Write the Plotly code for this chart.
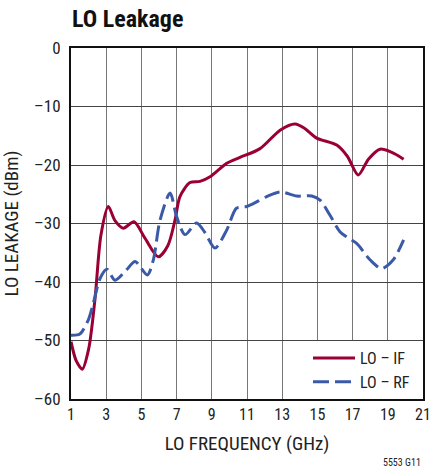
import plotly.graph_objects as go

# LO - IF (solid)
if_freq = [1.0, 1.3, 1.64, 2.0, 2.36, 2.7, 3.12, 3.5, 3.97, 4.58, 5.2, 5.96, 6.5, 6.91, 7.19, 7.76, 8.33, 8.9, 9.85, 10.6, 11.74, 12.9, 13.73, 14.3, 14.96, 16.1, 16.7, 17.32, 17.9, 18.56, 19.2, 19.9]
if_val = [-50.2, -53.5, -54.9, -51.5, -43.0, -32.0, -27.1, -29.5, -30.8, -29.7, -32.5, -35.7, -33.8, -29.4, -25.4, -23.0, -22.8, -22.0, -19.7, -18.7, -17.2, -14.0, -13.0, -13.8, -15.4, -16.6, -18.5, -21.7, -19.0, -17.3, -17.8, -19.0]

# LO - RF (dashed)
rf_freq = [1.0, 1.5, 1.98, 2.27, 2.65, 3.03, 3.5, 4.16, 4.64, 5.34, 5.68, 6.06, 6.63, 7.0, 7.48, 8.14, 8.6, 9.18, 9.85, 10.4, 10.98, 11.36, 12.12, 12.9, 13.82, 14.68, 15.15, 15.7, 16.28, 16.66, 17.23, 17.99, 18.65, 19.31, 19.9]
rf_val = [-49.1, -48.9, -46.5, -43.6, -39.4, -37.8, -39.7, -37.9, -36.5, -38.8, -36.2, -29.4, -24.8, -28.8, -31.9, -29.9, -31.5, -34.2, -31.1, -27.4, -27.1, -26.6, -25.4, -24.6, -25.3, -25.3, -26.0, -28.5, -31.4, -32.3, -33.4, -36.2, -37.7, -36.2, -32.8]

x_ticks = [1, 3, 5, 7, 9, 11, 13, 15, 17, 19, 21]
y_ticks = [0, -10, -20, -30, -40, -50, -60]
y_ticktext = ["0", "–10", "–20", "–30", "–40", "–50", "–60"]

FONT = "Liberation Sans Narrow, Arial Narrow, Roboto Condensed, Roboto, sans-serif"
RED = "#9a0033"
BLUE = "#3a5aa8"

fig = go.Figure()
fig.add_trace(go.Scatter(x=if_freq, y=if_val, mode="lines", name="LO – IF",
                         line=dict(color=RED, width=3, shape="spline", smoothing=0.8)))
fig.add_trace(go.Scatter(x=rf_freq, y=rf_val, mode="lines", name="LO – RF",
                         line=dict(color=BLUE, width=3, shape="spline", smoothing=0.8, dash="16px,6px")))

fig.update_layout(
    width=432, height=469,
    margin=dict(l=71, r=9, t=48, b=70, autoexpand=False),
    paper_bgcolor="white", plot_bgcolor="white",
    font=dict(family=FONT, size=16, color="#222"),
    title=dict(text="<b>LO Leakage</b>", x=72/432, xanchor="left", xref="container",
               y=1-18.5/469, yanchor="middle", automargin=False,
               font=dict(family=FONT, size=24, color="#111")),
    showlegend=True,
    legend=dict(x=1-8/352, xanchor="right", y=0, yanchor="bottom", bgcolor="white",
                borderwidth=0, font=dict(size=16, color="#222"), itemwidth=42,
                tracegroupgap=0),
    annotations=[dict(text="5553 G11", x=1, xref="paper", xanchor="right", y=-63/351, yref="paper",
                      yanchor="middle", showarrow=False, font=dict(size=10, color="#222"))],
)
fig.update_xaxes(range=[1, 21], tickvals=x_ticks, ticktext=[str(v) for v in x_ticks],
                 showgrid=True, gridcolor="#777", gridwidth=1, zeroline=False, automargin=False,
                 showline=True, linecolor="#111", linewidth=2, mirror=True, ticks="",
                 ticklabeloverflow="allow",
                 title=dict(text="LO FREQUENCY (GHz)", standoff=13), tickfont=dict(size=16))
fig.update_yaxes(range=[-60, 0], tickvals=y_ticks, ticktext=y_ticktext, automargin=False,
                 showgrid=True, gridcolor="#444", gridwidth=1, zeroline=False,
                 showline=True, linecolor="#111", linewidth=2, mirror=True, ticks="",
                 ticklabelstandoff=5,
                 title=dict(text="LO LEAKAGE (dBm)", standoff=14), tickfont=dict(size=17))

fig.write_html("out.html", config={"displayModeBar": False},
               post_script="document.body.style.margin='0';document.body.style.overflow='hidden';")
